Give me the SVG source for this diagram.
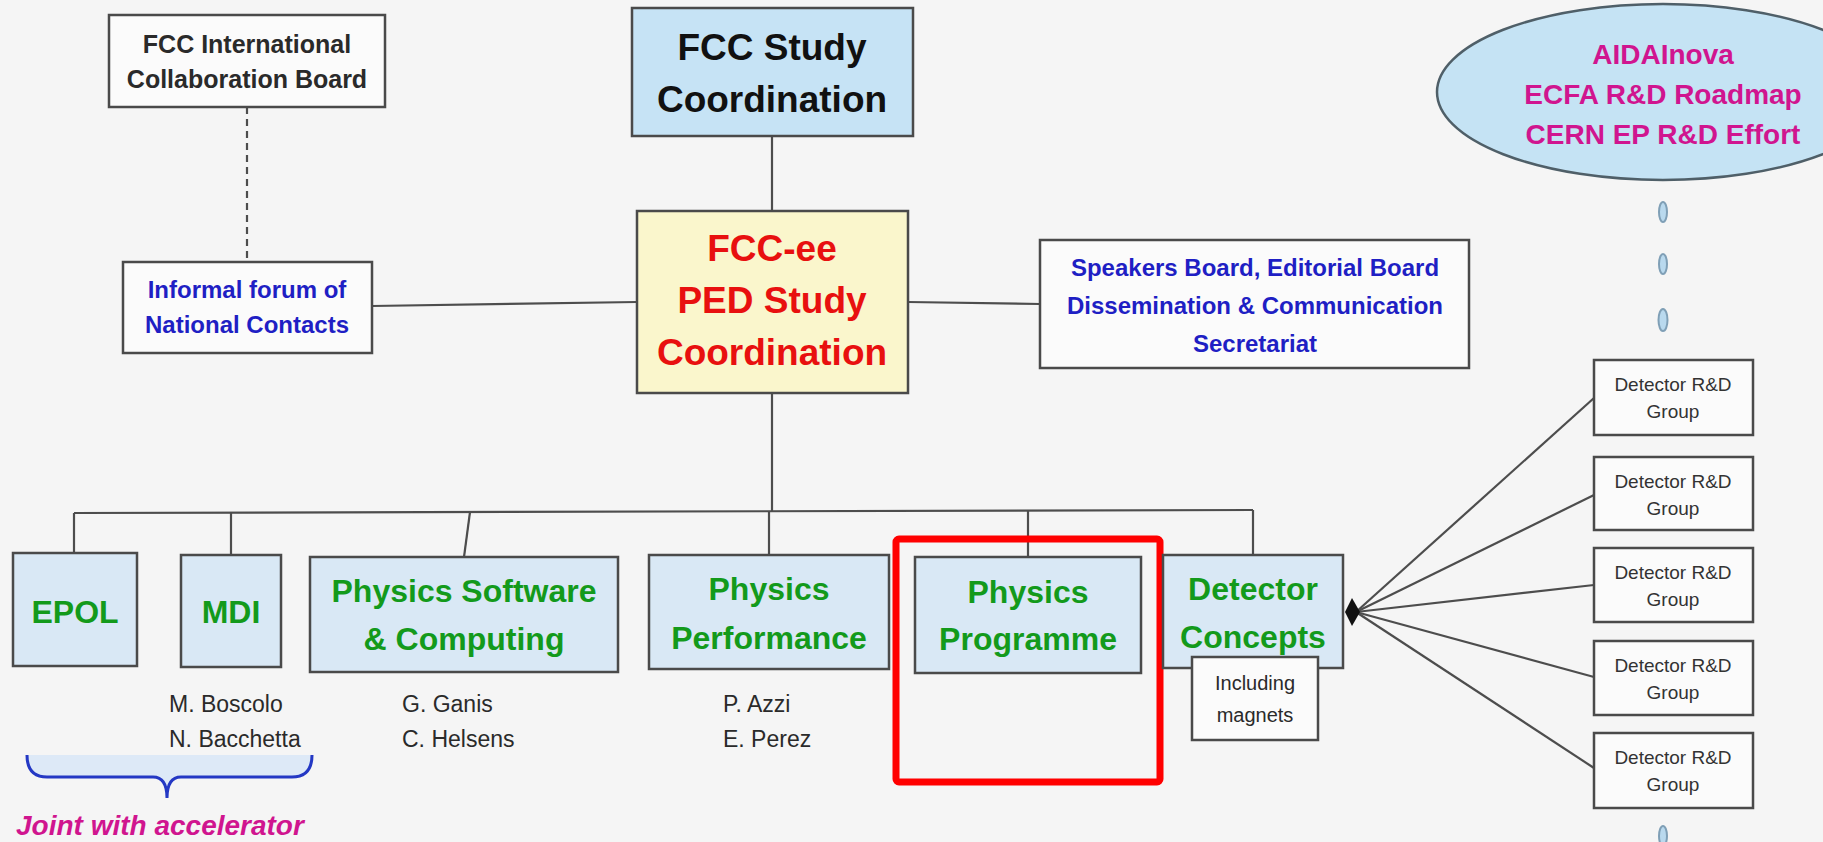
<svg xmlns="http://www.w3.org/2000/svg" width="1823" height="842" viewBox="0 0 1823 842">
<style>
.bg{fill:#f5f5f5}
.box{stroke:#4a4a4a;stroke-width:2.5}
.wbox{fill:#fbfbfb;stroke:#4a4a4a;stroke-width:2.5}
.lbox{fill:#d9e8f5;stroke:#4a4a4a;stroke-width:2.5}
.conn{stroke:#4d4d4d;stroke-width:2.2;fill:none}
.t{font-family:"Liberation Sans",Arial,sans-serif;text-anchor:middle}
.b{font-weight:bold}
.green{fill:#139a1b;font-weight:bold;font-size:32px}
.blue{fill:#1f1fc4;font-weight:bold;font-size:24px}
.mag{fill:#d0158f;font-weight:bold;font-size:28px}
.dk{fill:#2a2a2a}
.name{fill:#2a2a2a;font-size:23px;font-family:"Liberation Sans",Arial,sans-serif}
.grp{fill:#333;font-size:19px}
.dot{fill:#b9d9ee;stroke:#7f9fb6;stroke-width:2}
</style>
<rect class="bg" x="0" y="0" width="1823" height="842"/>

<g id="connectors">
  <line class="conn" x1="247" y1="107" x2="247" y2="262" stroke-dasharray="7,5"/>
  <line class="conn" x1="372" y1="306" x2="637" y2="302"/>
  <line class="conn" x1="772" y1="136" x2="772" y2="211"/>
  <line class="conn" x1="908" y1="302" x2="1040" y2="304"/>
  <line class="conn" x1="772" y1="393" x2="772" y2="511"/>
  <line class="conn" x1="74" y1="513" x2="1253" y2="510"/>
  <line class="conn" x1="74" y1="513" x2="74" y2="553"/>
  <line class="conn" x1="231" y1="513" x2="231" y2="555"/>
  <line class="conn" x1="470" y1="512" x2="464" y2="557"/>
  <line class="conn" x1="769" y1="511" x2="769" y2="555"/>
  <line class="conn" x1="1028" y1="511" x2="1028" y2="557"/>
  <line class="conn" x1="1253" y1="510" x2="1253" y2="555"/>
  <line class="conn" x1="1356" y1="612" x2="1594" y2="398"/>
  <line class="conn" x1="1356" y1="612" x2="1594" y2="495"/>
  <line class="conn" x1="1356" y1="612" x2="1594" y2="585"/>
  <line class="conn" x1="1356" y1="612" x2="1594" y2="677"/>
  <line class="conn" x1="1356" y1="612" x2="1594" y2="768"/>
  <path d="M1352,598 L1360,612 L1352,626 L1345,612 Z" fill="#111"/>
</g>

<g id="intl-board">
  <rect class="wbox" x="109" y="15" width="276" height="92"/>
  <text class="t b dk" x="247" y="53" font-size="25">FCC International</text>
  <text class="t b dk" x="247" y="88" font-size="25">Collaboration Board</text>
</g>

<g id="study-coordination">
  <rect class="box" x="632" y="8" width="281" height="128" fill="#c6e3f5" stroke-width="3"/>
  <text class="t b" x="772" y="60" font-size="37" fill="#111">FCC Study</text>
  <text class="t b" x="772" y="112" font-size="37" fill="#111">Coordination</text>
</g>

<g id="national-contacts">
  <rect class="wbox" x="123" y="262" width="249" height="91"/>
  <text class="t blue" x="247" y="298">Informal forum of</text>
  <text class="t blue" x="247" y="333">National Contacts</text>
</g>

<g id="ped-coordination">
  <rect class="box" x="637" y="211" width="271" height="182" fill="#faf6cc" stroke-width="3"/>
  <text class="t b" x="772" y="261" font-size="37" fill="#e8100f">FCC-ee</text>
  <text class="t b" x="772" y="313" font-size="37" fill="#e8100f">PED Study</text>
  <text class="t b" x="772" y="365" font-size="37" fill="#e8100f">Coordination</text>
</g>

<g id="speakers-board">
  <rect class="wbox" x="1040" y="240" width="429" height="128"/>
  <text class="t blue" x="1255" y="276">Speakers Board, Editorial Board</text>
  <text class="t blue" x="1255" y="314">Dissemination &amp; Communication</text>
  <text class="t blue" x="1255" y="352">Secretariat</text>
</g>

<g id="rd-efforts">
  <ellipse cx="1663" cy="92" rx="226" ry="88" fill="#c5e3f4" stroke="#4f5f68" stroke-width="2.5"/>
  <text class="t mag" x="1663" y="64">AIDAInova</text>
  <text class="t mag" x="1663" y="104">ECFA R&amp;D Roadmap</text>
  <text class="t mag" x="1663" y="144">CERN EP R&amp;D Effort</text>
  <ellipse class="dot" cx="1663" cy="212" rx="4" ry="10"/>
  <ellipse class="dot" cx="1663" cy="264" rx="4" ry="10"/>
  <ellipse class="dot" cx="1663" cy="320" rx="4.5" ry="11"/>
  <ellipse class="dot" cx="1663" cy="836" rx="4" ry="10"/>
</g>

<g id="epol">
  <rect class="lbox" x="13" y="553" width="124" height="113"/>
  <text class="t green" x="75" y="623">EPOL</text>
</g>

<g id="mdi">
  <rect class="lbox" x="181" y="555" width="100" height="112"/>
  <text class="t green" x="231" y="623">MDI</text>
  <text class="name" x="169" y="712">M. Boscolo</text>
  <text class="name" x="169" y="747">N. Bacchetta</text>
</g>

<g id="physics-software">
  <rect class="lbox" x="310" y="557" width="308" height="115"/>
  <text class="t green" x="464" y="602">Physics Software</text>
  <text class="t green" x="464" y="650">&amp; Computing</text>
  <text class="name" x="402" y="712">G. Ganis</text>
  <text class="name" x="402" y="747">C. Helsens</text>
</g>

<g id="physics-performance">
  <rect class="lbox" x="649" y="555" width="240" height="114"/>
  <text class="t green" x="769" y="600">Physics</text>
  <text class="t green" x="769" y="649">Performance</text>
  <text class="name" x="723" y="712">P. Azzi</text>
  <text class="name" x="723" y="747">E. Perez</text>
</g>

<g id="physics-programme">
  <rect class="lbox" x="915" y="557" width="226" height="116"/>
  <text class="t green" x="1028" y="603">Physics</text>
  <text class="t green" x="1028" y="650">Programme</text>
</g>

<g id="highlight">
  <rect x="896" y="539" width="264" height="243" rx="3" fill="none" stroke="#ff0000" stroke-width="7"/>
</g>

<g id="detector-concepts">
  <rect class="lbox" x="1163" y="555" width="180" height="113"/>
  <text class="t green" x="1253" y="600">Detector</text>
  <text class="t green" x="1253" y="648">Concepts</text>
</g>

<g id="including-magnets">
  <rect class="wbox" x="1192" y="657" width="126" height="83"/>
  <text class="t dk" x="1255" y="690" font-size="20">Including</text>
  <text class="t dk" x="1255" y="722" font-size="20">magnets</text>
</g>

<g id="rd-group-1">
  <rect class="wbox" x="1594" y="360" width="159" height="75"/>
  <text class="t grp" x="1673" y="391">Detector R&amp;D</text>
  <text class="t grp" x="1673" y="418">Group</text>
</g>
<g id="rd-group-2">
  <rect class="wbox" x="1594" y="457" width="159" height="73"/>
  <text class="t grp" x="1673" y="488">Detector R&amp;D</text>
  <text class="t grp" x="1673" y="515">Group</text>
</g>
<g id="rd-group-3">
  <rect class="wbox" x="1594" y="548" width="159" height="74"/>
  <text class="t grp" x="1673" y="579">Detector R&amp;D</text>
  <text class="t grp" x="1673" y="606">Group</text>
</g>
<g id="rd-group-4">
  <rect class="wbox" x="1594" y="641" width="159" height="74"/>
  <text class="t grp" x="1673" y="672">Detector R&amp;D</text>
  <text class="t grp" x="1673" y="699">Group</text>
</g>
<g id="rd-group-5">
  <rect class="wbox" x="1594" y="733" width="159" height="75"/>
  <text class="t grp" x="1673" y="764">Detector R&amp;D</text>
  <text class="t grp" x="1673" y="791">Group</text>
</g>

<g id="joint-accelerator">
  <path d="M27,755 Q27,777 47,777 L153,777 Q167,777 167,798 Q167,777 181,777 L292,777 Q312,777 312,755" fill="#dde9f7" stroke="#2438c4" stroke-width="3"/>
  <text x="16" y="835" font-family="Liberation Sans,Arial,sans-serif" font-weight="bold" font-style="italic" font-size="28" fill="#d0158f">Joint with accelerator</text>
</g>
</svg>
